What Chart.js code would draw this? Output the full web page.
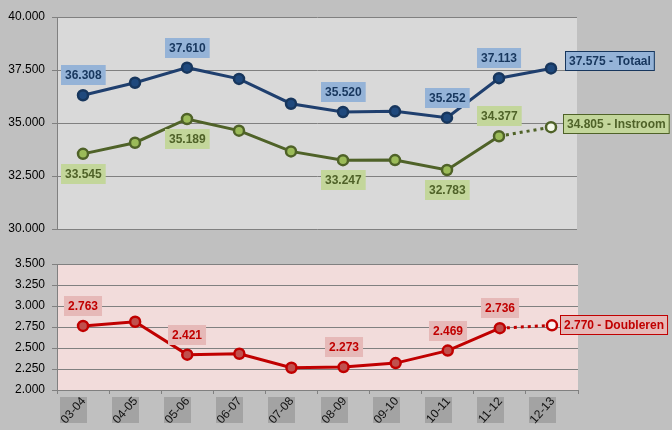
<!DOCTYPE html>
<html>
<head>
<meta charset="utf-8">
<script src="https://cdn.jsdelivr.net/npm/chart.js@4/dist/chart.umd.min.js"></script>
<style>
  body { margin: 0; background: #c0c0c0; }
  #wrap { position: relative; width: 672px; height: 430px; }
  canvas { position: absolute; left: 0; }
  #top { top: 0; }
  #bottom { top: 240px; }
</style>
</head>
<body>
<div id="wrap">
  <canvas id="top" width="672" height="260"></canvas>
  <canvas id="bottom" width="672" height="190"></canvas>
</div>
<script>
var schooljaren = ['03-04', '04-05', '05-06', '06-07', '07-08', '08-09', '09-10', '10-11', '11-12', '12-13'];
var totaal    = [36308, 36900, 37610, 37080, 35910, 35520, 35550, 35252, 37113, 37575];
var instroom  = [33545, 34070, 35189, 34640, 33660, 33247, 33250, 32783, 34377, 34805];
var doubleren = [2763, 2812, 2421, 2432, 2265, 2273, 2320, 2469, 2736, 2770];

// where each value label goes ('' = no label)
var totaalLabels    = ['above', '', 'above', '', '', 'above', '', 'above', 'above', 'right'];
var instroomLabels  = ['below', '', 'below', '', '', 'below', '', 'below', 'above', 'right'];
var doublerenLabels = ['above', '', 'above', '', '', 'above', '', 'above', 'above', 'right'];

var FONT = '"Liberation Sans", Arial, sans-serif';
var last = schooljaren.length - 1;

function fmt(v) {
  return Math.round(v).toString().replace(/\B(?=(\d{3})+(?!\d))/g, '.');
}

// background of the plot area
var plotBg = {
  id: 'plotBg',
  beforeDraw: function(chart, args, opts) {
    var a = chart.chartArea, ctx = chart.ctx;
    ctx.save();
    ctx.fillStyle = opts.color;
    ctx.fillRect(a.left, a.top, a.right - a.left, a.bottom - a.top);
    ctx.restore();
  }
};

// boxed value labels
var valueLabels = {
  id: 'valueLabels',
  afterDatasetsDraw: function(chart) {
    var ctx = chart.ctx;
    ctx.save();
    ctx.font = 'bold 12px ' + FONT;
    ctx.textBaseline = 'middle';
    ctx.textAlign = 'left';
    chart.data.datasets.forEach(function(ds, di) {
      var meta = chart.getDatasetMeta(di);
      ds.labelPos.forEach(function(pos, i) {
        if (!pos) return;
        var pt = meta.data[i];
        var text = fmt(ds.data[i]);
        if (pos === 'right') text += ' - ' + ds.label;
        var w = ctx.measureText(text).width + 8, h = 20;
        var cx = pt.x, cy = pt.y;
        var x, y;
        if (pos === 'above') { x = cx - w / 2; y = cy - 20 - h / 2; }
        else if (pos === 'below') { x = cx - w / 2; y = cy + 20 - h / 2; }
        else { x = cx + ds.rightGap; y = cy + ds.rightShift - h / 2; }
        x = Math.round(x); y = Math.round(y);
        ctx.fillStyle = ds.labelBg;
        ctx.fillRect(x, y, w, h);
        if (pos === 'right') {
          ctx.strokeStyle = ds.labelColor;
          ctx.lineWidth = 1;
          ctx.strokeRect(x + 0.5, y + 0.5, w - 1, h - 1);
        }
        ctx.fillStyle = ds.labelColor;
        ctx.fillText(text, x + 4, y + h / 2 + 1);
      });
    });
    ctx.restore();
  }
};

// grey boxes with rotated category names under the bottom chart
var xBoxes = {
  id: 'xBoxes',
  afterDraw: function(chart) {
    var ctx = chart.ctx, xs = chart.scales.x, a = chart.chartArea;
    ctx.save();
    ctx.font = '12px ' + FONT;
    ctx.textAlign = 'center';
    ctx.textBaseline = 'middle';
    schooljaren.forEach(function(lbl, i) {
      var px = xs.getPixelForValue(i);
      var bx = Math.round(px - 23), by = Math.round(a.bottom + 7);
      ctx.fillStyle = '#a3a3a3';
      ctx.fillRect(bx, by, 27, 26);
      ctx.save();
      ctx.translate(bx + 13.5, by + 13.5);
      ctx.rotate(-Math.PI * 0.27);
      ctx.fillStyle = '#111';
      ctx.fillText(lbl, 0, 0);
      ctx.restore();
    });
    ctx.restore();
  }
};

function yAxis(min, max, step) {
  return {
    min: min, max: max,
    afterFit: function(s) { s.width = 57; },
    ticks: {
      stepSize: step,
      padding: 7,
      color: '#000',
      font: { family: FONT, size: 12 },
      callback: function(v) { return fmt(v); }
    },
    grid: { color: '#808080', tickLength: 5, lineWidth: 1 },
    border: { color: '#808080' }
  };
}

var dotted = {
  borderDash: function(c) { return c.p1DataIndex === last ? [3, 4] : undefined; },
  borderWidth: function(c) { return c.p1DataIndex === last ? 3 : undefined; }
};

new Chart(document.getElementById('top').getContext('2d'), {
  type: 'line',
  data: {
    labels: schooljaren,
    datasets: [{
      label: 'Totaal',
      data: totaal,
      labelPos: totaalLabels,
      labelBg: '#95b3d7',
      labelColor: '#17365d',
      rightGap: 14,
      rightShift: -7,
      borderColor: '#1f3f6e',
      borderWidth: 3,
      pointRadius: 5,
      pointBorderWidth: 2.5,
      pointBackgroundColor: '#1f497d',
      pointBorderColor: '#17365d',
      tension: 0
    }, {
      label: 'Instroom',
      data: instroom,
      labelPos: instroomLabels,
      labelBg: '#c3d69b',
      labelColor: '#4f6228',
      rightGap: 12,
      rightShift: -3,
      borderColor: '#4f6228',
      borderWidth: 3,
      pointRadius: 5,
      pointBorderWidth: 2.5,
      pointBackgroundColor: instroom.map(function(v, i) { return i === last ? '#f4f8ea' : '#9bbb59'; }),
      pointBorderColor: '#4f6228',
      segment: dotted,
      tension: 0
    }]
  },
  options: {
    responsive: false,
    animation: false,
    layout: { padding: { left: 0, right: 95, top: 17, bottom: 31 } },
    plugins: { legend: { display: false }, tooltip: { enabled: false }, plotBg: { color: '#d9d9d9' } },
    scales: {
      x: { display: false, offset: true },
      y: yAxis(30000, 40000, 2500)
    }
  },
  plugins: [plotBg, valueLabels]
});

new Chart(document.getElementById('bottom').getContext('2d'), {
  type: 'line',
  data: {
    labels: schooljaren,
    datasets: [{
      label: 'Doubleren',
      data: doubleren,
      labelPos: doublerenLabels,
      labelBg: '#e6b9b8',
      labelColor: '#c00000',
      rightGap: 8,
      rightShift: 0,
      borderColor: '#c00000',
      borderWidth: 3,
      pointRadius: 5,
      pointBorderWidth: 2.5,
      pointBackgroundColor: doubleren.map(function(v, i) { return i === last ? '#fdf3f3' : '#c0504d'; }),
      pointBorderColor: '#c00000',
      segment: dotted,
      tension: 0
    }]
  },
  options: {
    responsive: false,
    animation: false,
    layout: { padding: { left: 0, right: 94, top: 24, bottom: 0 } },
    plugins: { legend: { display: false }, tooltip: { enabled: false }, plotBg: { color: '#f2dcdb' } },
    scales: {
      x: {
        offset: true,
        afterFit: function(s) { s.height = 40; },
        ticks: { display: false },
        grid: { offset: true, drawOnChartArea: false, drawTicks: true, tickLength: 4, color: '#808080' },
        border: { display: false }
      },
      y: yAxis(2000, 3500, 250)
    }
  },
  plugins: [plotBg, valueLabels, xBoxes]
});
</script>
</body>
</html>
